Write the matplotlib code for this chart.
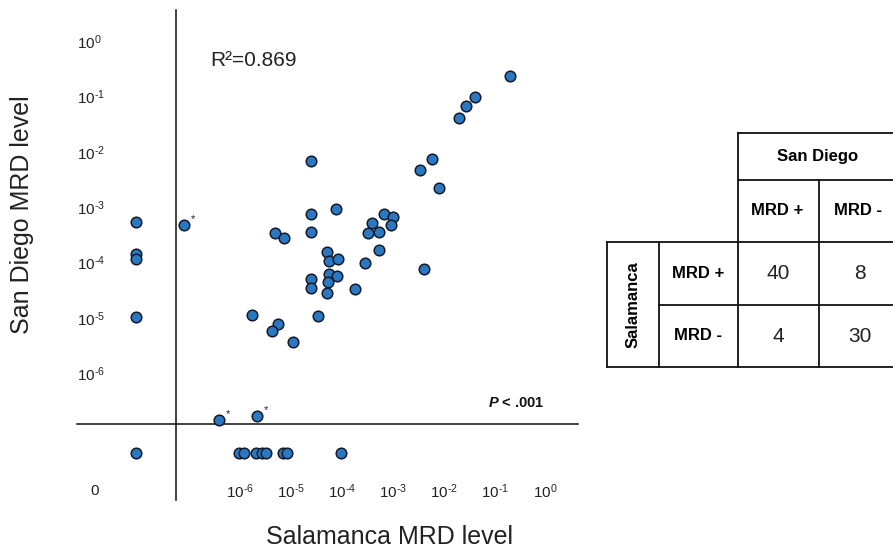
import numpy as np
import matplotlib
matplotlib.use('Agg')
import matplotlib.pyplot as plt

plt.rcParams['font.family'] = ['Liberation Sans', 'DejaVu Sans']
plt.rcParams['mathtext.fontset'] = 'custom'
plt.rcParams['mathtext.rm'] = 'Liberation Sans'
plt.rcParams['mathtext.it'] = 'Liberation Sans:italic'
plt.rcParams['mathtext.bf'] = 'Liberation Sans:bold'
plt.rcParams['mathtext.bfit'] = 'Liberation Sans:italic:bold'

# log10 MRD level, positive in both labs
sal_pos = [-0.70, -1.39, -1.57, -1.71, -2.24, -2.47, -2.10, -4.61, -4.61, -4.12,
           -4.61, -5.32, -5.14, -4.30, -4.26, -4.08, -4.26, -4.10, -4.28, -4.61,
           -4.61, -4.30, -3.75, -3.55, -3.28, -3.49, -3.28, -3.41, -3.18, -3.00,
           -3.04, -2.39, -5.77, -5.26, -5.38, -4.48, -4.97]
sd_pos = [-0.63, -1.01, -1.17, -1.39, -2.13, -2.33, -2.65, -2.16, -3.12, -3.03,
          -3.45, -3.46, -3.56, -3.81, -3.97, -3.93, -4.21, -4.24, -4.35, -4.30,
          -4.46, -4.55, -4.48, -4.01, -3.77, -3.46, -3.45, -3.28, -3.12, -3.18,
          -3.32, -4.12, -4.95, -5.11, -5.24, -4.97, -5.44]
# flagged cases (*)
sal_star = [-7.11, -6.42, -5.67]
sd_star = [-3.32, -6.85, -6.77]
# Salamanca positive / San Diego negative
sal_only = [-6.03, -5.93, -5.69, -5.58, -5.50, -5.16, -5.08, -4.02]
# San Diego positive / Salamanca negative
sd_only = [-3.27, -3.84, -3.93, -4.98]
# negative in both
both_neg = 1

decades = [-6, -5, -4, -3, -2, -1, 0]
r2 = 0.869
p_label = '< .001'

col_labels = ['MRD +', 'MRD -']
row_labels = ['MRD +', 'MRD -']
counts = [[40, 8], [4, 30]]

ZERO_X = -8.05   # where MRD-negative Salamanca cases sit
ZERO_Y = -7.44   # where MRD-negative San Diego cases sit
AX_X = -7.27
AX_Y = -6.92
BLUE = '#2b78c2'
EDGE = '#141a28'


def dec_label(d):
    return r'$10^{\text{%d}}$' % d


fig = plt.figure(figsize=(8.93, 5.52), dpi=100)
ax = fig.add_axes([110/893, 1-475/552, 480/893, 467/552])
ax.set_xlim(-8.56, 0.87)
ax.set_ylim(-7.84, 0.60)
for s in ax.spines.values():
    s.set_visible(False)

xs = sal_pos + sal_star + sal_only + [ZERO_X]*len(sd_only) + [ZERO_X]*both_neg
ys = sd_pos + sd_star + [ZERO_Y]*len(sal_only) + sd_only + [ZERO_Y]*both_neg
ax.scatter(xs, ys, s=58, c=BLUE, edgecolors=EDGE, linewidths=1.1, zorder=3, clip_on=False)

for x, y in zip(sal_star, sd_star):
    ax.annotate('*', (x, y), xytext=(5, 2), textcoords='offset points',
                fontsize=8, color='#222222')

# crossing axes
ax.plot([AX_X, AX_X], [0.568, -8.29], color='#222222', lw=1.2, clip_on=False)
ax.plot([-9.21, 0.63], [AX_Y, AX_Y], color='#222222', lw=1.2, clip_on=False)

ax.set_xticks(decades)
ax.set_xticklabels([dec_label(d) for d in decades])
ax.set_yticks(decades)
ax.set_yticklabels([dec_label(d) for d in decades])
ax.tick_params(axis='x', length=0, pad=5.5, labelsize=11, labelcolor='#222222')
ax.tick_params(axis='y', length=0, pad=23.8, labelsize=11, labelcolor='#222222')
for lbl in ax.get_yticklabels():
    lbl.set_horizontalalignment('left')
ax.text(-8.86, -8.13, '0', fontsize=11, color='#222222', ha='center', va='center', clip_on=False)

ax.text(-6.60, -0.34, 'R²=%.3f' % r2, fontsize=15, ha='left', va='center', color='#222222')
ax.text(-0.02, -6.54, r'$\mathbfit{P}$ ' + p_label, fontsize=10.5, fontweight='bold',
        ha='right', va='center', color='#111111')

fig.text(390/893, 1-537/552, 'Salamanca MRD level', fontsize=18, ha='center', va='center', color='#222222')
fig.text(22/893, 1-215/552, 'San Diego MRD level', fontsize=18, rotation=90,
         ha='center', va='center', color='#222222')

# 2x2 agreement table
tab = fig.add_axes([0, 0, 1, 1])
tab.set_xlim(0, 893)
tab.set_ylim(552, 0)
tab.axis('off')
tx = [607, 659, 738, 819, 900]
ty = [133, 179.5, 242, 305, 367]
lk = dict(color='#111111', lw=1.3)
tab.plot([tx[2], tx[4]], [ty[0], ty[0]], **lk)
tab.plot([tx[2], tx[4]], [ty[1], ty[1]], **lk)
tab.plot([tx[0], tx[4]], [ty[2], ty[2]], **lk)
tab.plot([tx[1], tx[4]], [ty[3], ty[3]], **lk)
tab.plot([tx[0], tx[4]], [ty[4], ty[4]], **lk)
tab.plot([tx[0], tx[0]], [ty[2], ty[4]], **lk)
tab.plot([tx[1], tx[1]], [ty[2], ty[4]], **lk)
tab.plot([tx[2], tx[2]], [ty[0], ty[4]], **lk)
tab.plot([tx[3], tx[3]], [ty[1], ty[4]], **lk)

tab.text((tx[2]+tx[4])/2 - 1, (ty[0]+ty[1])/2, 'San Diego', fontsize=12, fontweight='bold',
         ha='center', va='center')
tab.text((tx[0]+tx[1])/2, (ty[2]+ty[4])/2, 'Salamanca', fontsize=12, fontweight='bold',
         rotation=90, ha='center', va='center')
for j, lab in enumerate(col_labels):
    tab.text((tx[2+j]+tx[3+j])/2 - 1, (ty[1]+ty[2])/2, lab, fontsize=12, fontweight='bold',
             ha='center', va='center')
for i, lab in enumerate(row_labels):
    tab.text((tx[1]+tx[2])/2, (ty[2+i]+ty[3+i])/2, lab, fontsize=12, fontweight='bold',
             ha='center', va='center')
    for j in range(2):
        tab.text((tx[2+j]+tx[3+j])/2, (ty[2+i]+ty[3+i])/2, str(counts[i][j]), fontsize=15,
                 ha='center', va='center', color='#222222')

fig.savefig('out.png', dpi=100)
